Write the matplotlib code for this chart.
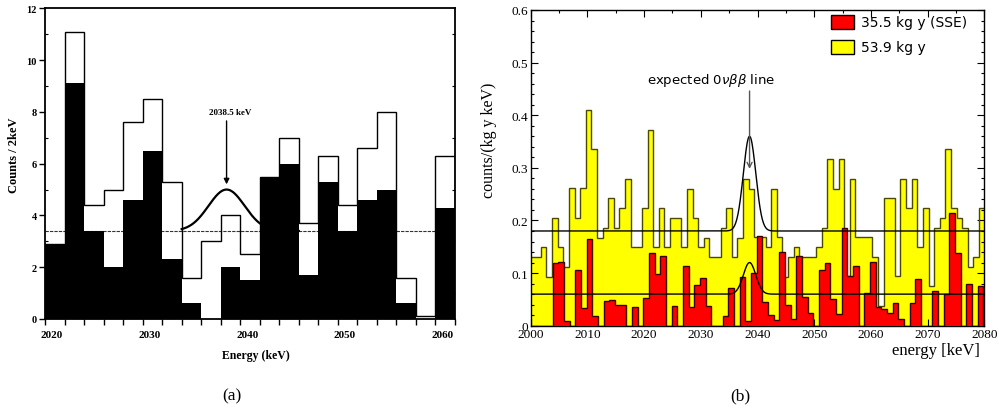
import numpy as np
import matplotlib
matplotlib.use("Agg")
import matplotlib.pyplot as plt
import matplotlib.transforms as mtransforms
from matplotlib.patches import Patch
from matplotlib.ticker import MultipleLocator

SERIF = "Liberation Serif"
SANS = "DejaVu Sans"

# ---- panel (a): counts per 2 keV ----
a_edges = np.arange(2020, 2063, 2)
a_black = [2.9, 9.1, 3.4, 2.0, 4.6, 6.5, 2.3, 0.6, 0.0, 2.0, 1.5,
           5.5, 6.0, 1.7, 5.3, 3.4, 4.6, 5.0, 0.6, 0.0, 4.3]
a_open = [2.9, 11.1, 4.4, 5.0, 7.6, 8.5, 5.3, 1.6, 3.0, 4.0, 2.5,
          5.5, 7.0, 3.7, 6.3, 4.4, 6.6, 8.0, 1.6, 0.1, 6.3]
a_bkg = 3.4
a_line_E = 2038.6
a_line_amp = 1.6
a_sigma = 1.85
a_curve_range = (2034.0, 2046.0)

# ---- panel (b): counts/(kg y keV) ----
yel_start, yel_width = 1999.8, 0.991
yellow = [0.130, 0.130, 0.149, 0.093, 0.204, 0.149, 0.111, 0.261, 0.204, 0.261,
          0.409, 0.335, 0.167, 0.186, 0.242, 0.186, 0.223, 0.279, 0.149, 0.149,
          0.223, 0.372, 0.149, 0.223, 0.149, 0.204, 0.204, 0.149, 0.260, 0.204,
          0.149, 0.167, 0.130, 0.130, 0.186, 0.223, 0.130, 0.167, 0.279, 0.260,
          0.168, 0.168, 0.149, 0.260, 0.168, 0.093, 0.130, 0.149, 0.130, 0.130,
          0.130, 0.149, 0.186, 0.316, 0.260, 0.316, 0.095, 0.279, 0.168, 0.168,
          0.168, 0.130, 0.038, 0.242, 0.242, 0.095, 0.279, 0.223, 0.279, 0.149,
          0.223, 0.076, 0.186, 0.204, 0.335, 0.223, 0.204, 0.186, 0.111, 0.130,
          0.223]
red_start, red_width = 1999.85, 1.0
red = [0, 0, 0, 0, 0.119, 0.122, 0.008, 0, 0.106, 0.033,
       0.164, 0.019, 0, 0.046, 0.048, 0.040, 0.040, 0, 0.035, 0,
       0.052, 0.138, 0.098, 0.132, 0, 0.038, 0, 0.113, 0.035, 0.077,
       0.091, 0.038, 0, 0, 0.019, 0.071, 0, 0.092, 0.008, 0.100,
       0.170, 0.045, 0.020, 0.010, 0.140, 0.040, 0.012, 0.133, 0.055, 0.025,
       0, 0.105, 0.120, 0.050, 0.022, 0.186, 0.095, 0.114, 0, 0.063,
       0.122, 0.036, 0.032, 0.025, 0.043, 0.013, 0, 0.043, 0.089, 0,
       0, 0.066, 0, 0.061, 0.214, 0.138, 0, 0.080, 0, 0.075]
b_bkg = [0.18, 0.06]
b_amp = [0.18, 0.06]
b_line_E = 2038.6
b_sigma = 1.1
legend_labels = ["35.5 kg y (SSE)", "53.9 kg y"]

yel_edges = yel_start + yel_width * np.arange(len(yellow) + 1)
red_edges = red_start + red_width * np.arange(len(red) + 1)

fig = plt.figure(figsize=(9.99, 4.14), dpi=100)
W, H = 999.0, 414.0

# ================= (a) =================
ax = fig.add_axes([45 / W, 1 - 320 / H, 410 / W, (320 - 9.3) / H])
ax.axhline(a_bkg, color="#333333", lw=0.8, ls=(0, (3, 1)), zorder=1)
xc = np.linspace(*a_curve_range, 300)
ax.plot(xc, a_bkg + a_line_amp * np.exp(-0.5 * ((xc - a_line_E) / a_sigma) ** 2),
        color="black", lw=1.6, zorder=2)
ax.stairs(a_black, a_edges, fill=True, color="black", zorder=3)
ax.stairs(a_open, a_edges, color="black", lw=1.0, zorder=4)
ax.annotate("", xy=(a_line_E, 5.2), xytext=(a_line_E, 7.65),
            arrowprops=dict(arrowstyle="-|>", color="black", lw=1.0,
                            mutation_scale=8, shrinkA=0, shrinkB=0), zorder=5)
ax.text(2039.0, 7.85, "2038.5 keV", ha="center", va="bottom",
        fontsize=6.5, fontweight="bold", family=SERIF)

ax.set_xlim(2020, 2062)
ax.set_ylim(0, 12)
ax.xaxis.set_major_locator(MultipleLocator(10))
ax.xaxis.set_minor_locator(MultipleLocator(2))
ax.yaxis.set_major_locator(MultipleLocator(2))
ax.yaxis.set_minor_locator(MultipleLocator(1))
ax.tick_params(axis="both", which="major", direction="out", length=4, width=1,
               top=False, right=False, labelsize=7.5, pad=2)
ax.tick_params(axis="x", which="minor", direction="out", length=4, width=1, top=False)
ax.tick_params(axis="y", which="minor", direction="in", length=2, width=0.8, right=True)
for lab in ax.get_xticklabels() + ax.get_yticklabels():
    lab.set_fontweight("bold")
    lab.set_family(SERIF)
shift = mtransforms.ScaledTranslation(7 / 100, -3 / 100, fig.dpi_scale_trans)
for lab in ax.get_xticklabels():
    lab.set_transform(lab.get_transform() + shift)
    lab.set_fontsize(8)
for sp in ax.spines.values():
    sp.set_linewidth(1.3)

fig.text(14 / W, 1 - 155 / H, "Counts / 2keV", rotation=90, ha="center", va="center",
         fontsize=9, fontweight="bold", family=SERIF)
fig.text(256 / W, 1 - 356 / H, "Energy (keV)", ha="center", va="center",
         fontsize=8.5, fontweight="bold", family=SERIF)

# ================= (b) =================
bx = fig.add_axes([530.7 / W, 1 - 326.7 / H, 453.6 / W, (326.7 - 11) / H])
bx.stairs(yellow, yel_edges, fill=True, color="#ffff00", zorder=1)
bx.stairs(yellow, yel_edges, color="#4a4a00", lw=1.0, zorder=2)
bx.stairs(red, red_edges, fill=True, color="#ff0000", zorder=3)
bx.stairs(red, red_edges, color="#3a0000", lw=1.0, zorder=4)

xg = np.linspace(2000, 2080, 800)
for base, amp in zip(b_bkg, b_amp):
    bx.plot(xg, base + amp * np.exp(-0.5 * ((xg - b_line_E) / b_sigma) ** 2),
            color="black", lw=1.0, zorder=5)

bx.annotate("", xy=(b_line_E, 0.298), xytext=(b_line_E, 0.446),
            arrowprops=dict(arrowstyle="->", color="#555555", lw=1.0,
                            mutation_scale=9, shrinkA=0, shrinkB=0), zorder=6)
bx.text(2031.8, 0.467, r"expected 0$\nu\beta\beta$ line", ha="center", va="center",
        fontsize=9.5, family=SANS)

handles = [Patch(facecolor="#ff0000", edgecolor="black", lw=1.0),
           Patch(facecolor="#ffff00", edgecolor="black", lw=1.0)]
bx.legend(handles, legend_labels, loc="upper right", bbox_to_anchor=(0.962, 0.985),
          frameon=False, handlelength=1.65, handleheight=1.15,
          handletextpad=0.5, labelspacing=0.75, borderpad=0, borderaxespad=0,
          prop={"family": SANS, "size": 10})

bx.set_xlim(2000, 2080)
bx.set_ylim(0, 0.6)
bx.xaxis.set_major_locator(MultipleLocator(10))
bx.xaxis.set_minor_locator(MultipleLocator(5))
bx.yaxis.set_major_locator(MultipleLocator(0.1))
bx.yaxis.set_minor_locator(MultipleLocator(0.02))
bx.tick_params(which="both", direction="in", top=True, right=True, width=0.8)
bx.tick_params(which="major", length=5, labelsize=9.5, pad=2)
bx.tick_params(axis="x", which="major", pad=1.5)
bx.tick_params(which="minor", length=2.5)
bx.yaxis.set_major_formatter(plt.FuncFormatter(lambda v, p: "0" if v == 0 else f"{v:.1f}"))
for lab in bx.get_xticklabels() + bx.get_yticklabels():
    lab.set_family(SERIF)
for sp in bx.spines.values():
    sp.set_linewidth(1.0)

fig.text(489 / W, 1 - 140 / H, "counts/(kg y keV)", rotation=90, ha="center", va="center",
         fontsize=11.5, family=SERIF)
fig.text(936 / W, 1 - 351 / H, "energy [keV]", ha="center", va="center",
         fontsize=12, family=SERIF)

fig.text(232 / W, 1 - 396 / H, "(a)", ha="center", va="center", fontsize=12.5, family=SERIF)
fig.text(740 / W, 1 - 396 / H, "(b)", ha="center", va="center", fontsize=12.5, family=SERIF)

fig.savefig("out.png", dpi=100, facecolor="white")
